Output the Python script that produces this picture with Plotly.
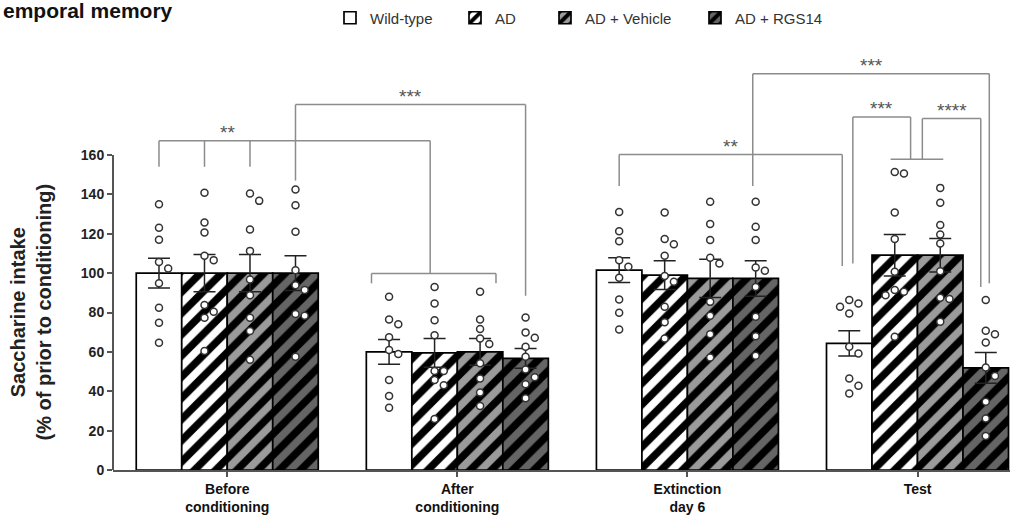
import plotly.graph_objects as go

# ---------------- data ----------------
groups = ["Before<br>conditioning", "After<br>conditioning", "Extinction<br>day 6", "Test"]
series = ["Wild-type", "AD", "AD + Vehicle", "AD + RGS14"]

mean_wt = [100, 60, 101.5, 64.3]
mean_ad = [100, 59.5, 99, 109.1]
mean_veh = [100, 60, 97.3, 109.1]
mean_rgs = [100, 56.7, 97.3, 51.9]

sem_wt = [7.6, 6.3, 6.3, 6.4]
sem_ad = [9.5, 7.3, 7.3, 10.5]
sem_veh = [9.5, 6.8, 9.7, 8.5]
sem_rgs = [8.8, 5.0, 9.0, 7.8]

pts_wt = [
    [135, 123, 117, 105.7, 102.4, 94.8, 82.4, 74.8, 64.6],
    [88, 76.5, 74, 67.4, 60.9, 58.9, 45.7, 37.6, 31.6],
    [131.1, 121.3, 116.2, 106.6, 103.2, 97.6, 86.6, 79.9, 71.4],
    [86.3, 84.6, 82.9, 79.5, 62.6, 59.2, 46.5, 42.8, 38.9],
]
pts_ad = [
    [140.8, 125.7, 120.6, 108.8, 106.6, 83.8, 80.4, 77.3, 60.4],
    [93, 84.6, 76.1, 68.5, 50.3, 50.3, 45.7, 43.1, 25.9],
    [130.8, 117.3, 114.7, 108.8, 98.5, 95.6, 82.9, 75, 66.8],
    [151.4, 150.6, 130.8, 117.3, 100.7, 91.4, 90.5, 88.8, 67.7],
]
pts_veh = [
    [140.4, 136.7, 122.2, 111.3, 96.8, 88.8, 77.3, 70.6, 56],
    [90.5, 76.5, 71.6, 66.8, 64, 54.2, 46.5, 39.4, 32.5],
    [136.2, 124.9, 116.8, 107.8, 104.9, 85.4, 78.3, 69, 57.2],
    [143.3, 135.7, 124.4, 119.6, 115.1, 101, 87.5, 86.8, 75.3],
]
pts_rgs = [
    [142.5, 134.5, 121, 101.5, 93.9, 91.4, 79.2, 78.3, 57.5],
    [77.5, 69.9, 67.2, 62.6, 57.5, 51.1, 47.1, 43.5, 36.4],
    [136.2, 123.5, 116.8, 102.9, 101.2, 93, 77.8, 68, 58],
    [86.3, 70.7, 68.9, 64.8, 52.1, 47.7, 34.7, 26.2, 17.3],
]

y_ticks = [0, 20, 40, 60, 80, 100, 120, 140, 160]

# ---------------- styling / geometry ----------------
FONT = "Liberation Sans, Arial, Helvetica, sans-serif"
BARGAP = 0.209
W = (1 - BARGAP) / 4
fills = ["white", "white", "#9b9b9b", "#656565"]
patterns = [None, "/", "/", "/"]
means = [mean_wt, mean_ad, mean_veh, mean_rgs]
sems = [sem_wt, sem_ad, sem_veh, sem_rgs]
points = [pts_wt, pts_ad, pts_veh, pts_rgs]
legend_ids = ["legend", "legend2", "legend3", "legend4"]
legend_text_px = [370, 495, 585, 735]   # x where each legend label starts

PLOT_L = 113
PLOT_W = 897
PLOT_H = 470
PX_PER_UNIT = 315 / 160
Y_TOP = PLOT_H / PX_PER_UNIT


def xpos(g, s):
    return g + (s - 1.5) * W


def dodge(vals, thresh=4.4, step=0.04):
    placed, offs = [], []
    for v in vals:
        chosen = 0
        for cand in [0, step, -step, 2 * step, -2 * step]:
            if all(abs(v - pv) >= thresh or abs(cand - po) >= step * 0.9 for pv, po in placed):
                chosen = cand
                break
        placed.append((v, chosen))
        offs.append(chosen)
    return offs


fig = go.Figure()
xs_cat = list(range(len(groups)))

for s, name in enumerate(series):
    if patterns[s]:
        pat = dict(shape="/", fgcolor="black", bgcolor=fills[s], size=15, solidity=0.5,
                   fgopacity=1, fillmode="replace")
    else:
        pat = dict(shape="")
    fig.add_trace(go.Bar(
        x=xs_cat, y=means[s], name=name, legend=legend_ids[s],
        marker=dict(color=fills[s], line=dict(color="black", width=1.7), pattern=pat),
        error_y=dict(type="data", array=sems[s], color="#222", thickness=1.5, width=11),
    ))

for s in range(len(series)):
    px_, py_ = [], []
    for g in range(len(groups)):
        offs = dodge(points[s][g])
        for v, o in zip(points[s][g], offs):
            px_.append(xpos(g, s) + o)
            py_.append(v)
    fig.add_trace(go.Scatter(
        x=px_, y=py_, mode="markers", showlegend=False, hoverinfo="skip",
        marker=dict(symbol="circle", size=7, color="white", line=dict(color="#333", width=1.5)),
    ))

# ---------------- significance brackets ----------------
BR = dict(color="#8c8c8c", width=1.5)
segs = []


def hline(x0, x1, y):
    segs.append((x0, y, x1, y))


def vline(x, y0, y1):
    segs.append((x, y0, x, y1))


# ** before conditioning vs after
x_after_mid = 0.882
hline(xpos(0, 0), x_after_mid, 167.2)
vline(xpos(0, 0), 167.2, 154)
vline(xpos(0, 1), 167.2, 154)
vline(xpos(0, 2), 167.2, 154)
vline(x_after_mid, 167.2, 99.8)
hline(0.627, 1.168, 99.8)
vline(0.627, 99.8, 94.8)
vline(1.168, 99.8, 94.8)
# *** RGS14 before vs after
hline(xpos(0, 3), xpos(1, 3), 185.6)
vline(xpos(0, 3), 185.6, 147)
vline(xpos(1, 3), 185.6, 88.5)
# ** extinction vs test
hline(xpos(2, 0), 2.673, 160.2)
vline(xpos(2, 0), 160.2, 144.2)
vline(2.673, 160.2, 103.6)
# *** top
hline(2.284, 3.312, 201.3)
vline(2.284, 201.3, 144.2)
vline(3.312, 201.3, 94.8)
# *** test WT vs AD/Veh
hline(2.719, 2.970, 179.3)
vline(2.719, 179.3, 104.9)
vline(2.970, 179.3, 157.9)
# **** test AD/Veh vs RGS14
hline(3.021, 3.275, 178.5)
vline(3.021, 178.5, 157.9)
vline(3.275, 178.5, 93)
hline(2.883, 3.112, 157.9)

shapes = [dict(type="line", xref="x", yref="y", x0=a, y0=b, x1=c, y1=d, line=BR) for a, b, c, d in segs]
# y axis line (only up to 160)
shapes.append(dict(type="line", xref="paper", yref="y", x0=0, x1=0, y0=0, y1=160,
                   line=dict(color="#555", width=2)))

stars = [
    (0.0, 167.2, "**"),
    ((xpos(0, 3) + xpos(1, 3)) / 2, 185.6, "***"),
    ((xpos(2, 0) + 2.673) / 2, 160.2, "**"),
    ((2.284 + 3.312) / 2, 201.3, "***"),
    ((2.719 + 2.970) / 2, 179.3, "***"),
    ((3.021 + 3.275) / 2, 178.5, "****"),
]
annotations = [dict(x=x, y=y, xref="x", yref="y", text=t, showarrow=False, yanchor="bottom",
                    yshift=-4, font=dict(family=FONT, size=19, color="#555")) for x, y, t in stars]

annotations.append(dict(text="<b>Saccharine intake<br>(% of prior to conditioning)</b>", textangle=-90,
                        xref="paper", yref="y", x=(30 - PLOT_L) / PLOT_W, y=80,
                        xanchor="center", yanchor="middle", showarrow=False,
                        font=dict(family=FONT, size=20, color="#222")))
annotations.append(dict(text="<b>emporal memory</b>", xref="paper", yref="paper",
                        x=(1 - PLOT_L) / PLOT_W, y=1 - 10 / PLOT_H,
                        xanchor="left", yanchor="middle", showarrow=False,
                        font=dict(family=FONT, size=21, color="#111")))

legends = {}
for i, lid in enumerate(legend_ids):
    legends[lid] = dict(orientation="h", x=(legend_text_px[i] - 40 - PLOT_L) / PLOT_W,
                        y=1 - 18 / PLOT_H, xanchor="left", yanchor="middle",
                        font=dict(family=FONT, size=15, color="#333"), bgcolor="rgba(0,0,0,0)")

fig.update_layout(
    template="none",
    width=1027, height=528,
    margin=dict(l=PLOT_L, r=1027 - PLOT_L - PLOT_W, t=0, b=528 - PLOT_H, pad=0),
    paper_bgcolor="white", plot_bgcolor="white",
    barmode="group", bargap=BARGAP, bargroupgap=0,
    font=dict(family=FONT, color="#222"),
    shapes=shapes, annotations=annotations,
    showlegend=True,
    xaxis=dict(range=[-0.4965, 3.402], tickvals=xs_cat, ticktext=["<b>%s</b>" % g for g in groups],
               showline=True, linecolor="#555", linewidth=2, ticks="outside", ticklen=5,
               tickcolor="#555", tickwidth=1.5, showgrid=False, zeroline=False, automargin=False,
               tickfont=dict(family=FONT, size=14, color="#111")),
    yaxis=dict(range=[0, Y_TOP], tickvals=y_ticks, ticktext=["<b>%d</b>" % v for v in y_ticks],
               showline=False, ticks="outside", ticklen=5, tickcolor="#555", tickwidth=1.5,
               showgrid=False, zeroline=False, automargin=False,
               tickfont=dict(family=FONT, size=14, color="#222")),
    **legends,
)

fig.write_html("out.html", config={"displayModeBar": False},
               post_script="document.body.style.margin='0';")
